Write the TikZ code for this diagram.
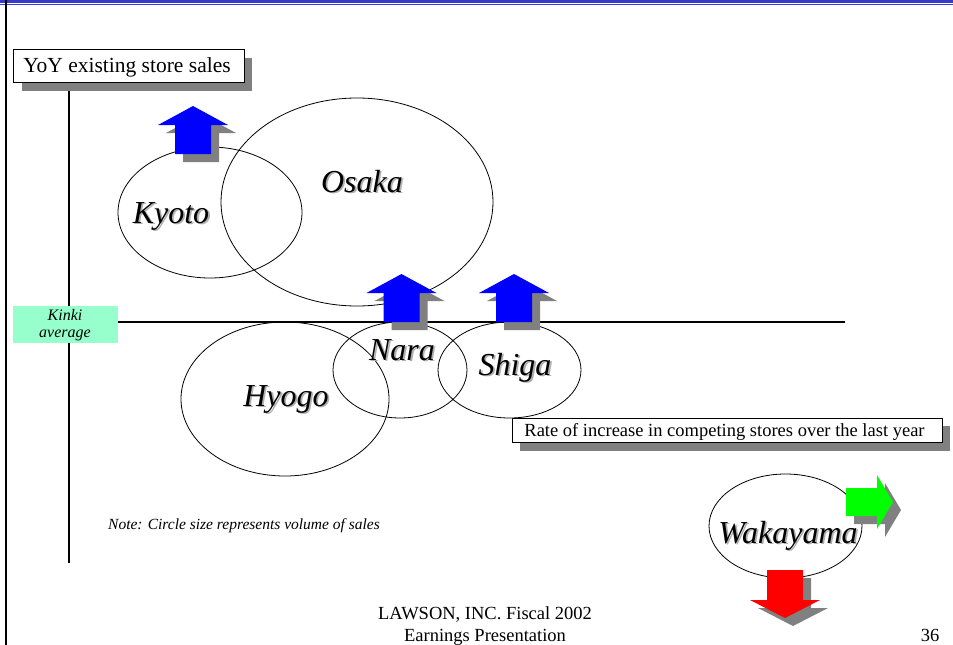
\documentclass[tikz,border=0pt]{standalone}
\usepackage{fontspec}
\setmainfont{Liberation Serif}
\usetikzlibrary{shapes.geometric,calc}
\definecolor{bandblue}{RGB}{58,58,200}
\definecolor{lineblue}{RGB}{60,60,230}
\definecolor{kinkigreen}{RGB}{150,255,204}
\definecolor{shadowgray}{RGB}{128,128,128}
\definecolor{txtshadow}{RGB}{175,175,175}
\definecolor{brightgreen}{RGB}{0,255,0}
\tikzset{
  region/.style={ellipse, draw=black, line width=0.8pt, inner sep=0pt},
  regionname/.style={font=\fontsize{32}{36}\selectfont\itshape, inner sep=0pt, anchor=base},
  axisline/.style={line width=1.1pt},
  tagbox/.style={draw=black, fill=white, line width=0.8pt, inner sep=0pt},
  plaintext/.style={inner sep=0pt, anchor=base},
  pics/uparrow/.style={code={
    \fill[shadowgray] (-10,8) -- (-10,-21) -- (-27,-21) -- (8,-40) -- (43,-21) -- (26,-21) -- (26,8) -- cycle;
    \fill[#1] (-18,0) -- (-18,-29) -- (-35,-29) -- (0,-48) -- (35,-29) -- (18,-29) -- (18,0) -- cycle;
  }},
  pics/rightarrow/.style={code={
    \fill[shadowgray] (8,-6) -- (39,-6) -- (39,-19) -- (55,8) -- (39,35) -- (39,22) -- (8,22) -- cycle;
    \fill[#1] (0,-14) -- (31,-14) -- (31,-27) -- (47,0) -- (31,27) -- (31,14) -- (0,14) -- cycle;
  }},
  pics/downarrow/.style={code={
    \fill[shadowgray] (-10,8) -- (-10,38) -- (-27,38) -- (8,56) -- (43,38) -- (26,38) -- (26,8) -- cycle;
    \fill[#1] (-18,0) -- (-18,30) -- (-35,30) -- (0,48) -- (35,30) -- (18,30) -- (18,0) -- cycle;
  }}
}
% region label with a soft drop shadow; #2 is the baseline centre
\newcommand\regionlabel[3]{%
  \node[regionname, text=txtshadow] (#1-sh) at ($(#2)+(1.8,1.8)$) {#3};
  \node[regionname] (#1) at (#2) {#3};
}
\begin{document}
\begin{tikzpicture}[x=1pt, y=-1pt]
  \useasboundingbox (0,0) rectangle (953,645);
  \fill[white] (0,0) rectangle (953,645);

  % header rule and left page edge
  \fill[bandblue] (0,0) rectangle (953,2.8);
  \fill[lineblue] (0,3.8) rectangle (953,5);
  \fill[black] (5,0) rectangle (7.3,645);

  % axes
  \coordinate (vtop) at (69,91);
  \coordinate (vbot) at (69,563);
  \coordinate (hleft) at (117,322);
  \coordinate (hright) at (845,322);
  \draw[axisline] (vtop) -- (vbot);
  \draw[axisline] (hleft) -- (hright);

  % vertical axis title
  \fill[shadowgray] (21.5,57.5) rectangle (252,91);
  \node[tagbox, minimum width=230.6pt, minimum height=33pt] (yoy) at (128.7,65.5) {};
  \node[plaintext, font=\fontsize{21.5}{24}\selectfont] (yoyT) at (127,72.5) {YoY existing store sales};

  % average marker
  \node[fill=kinkigreen, minimum width=105pt, minimum height=37pt, inner sep=0pt] (kinki) at (65.5,324.5) {};
  \node[plaintext, font=\fontsize{16}{18}\selectfont\itshape] (kinkiT1) at (65,320) {Kinki};
  \node[plaintext, font=\fontsize{16}{18}\selectfont\itshape] (kinkiT2) at (65,337.5) {average};

  % regions
  \node[region, minimum width=184pt, minimum height=131pt] (kyotoE) at (210,212.5) {};
  \node[region, minimum width=272pt, minimum height=208pt] (osakaE) at (357,202) {};
  \node[region, minimum width=208pt, minimum height=154pt] (hyogoE) at (285,399) {};
  \node[region, minimum width=134pt, minimum height=96pt] (naraE) at (400,370) {};
  \node[region, minimum width=143pt, minimum height=96pt] (shigaE) at (509.5,370) {};
  \node[region, minimum width=153pt, minimum height=104pt] (wakaE) at (785.5,526) {};

  % arrows
  \pic at (193,154) {uparrow=blue};
  \pic at (401.5,322) {uparrow=blue};
  \pic at (514,322) {uparrow=blue};
  \pic at (846,502) {rightarrow=brightgreen};
  \pic at (785,570) {downarrow=red};

  % region names
  \coordinate (kyotoP) at (171,223);
  \coordinate (osakaP) at (362,192);
  \coordinate (hyogoP) at (286,406);
  \coordinate (naraP) at (402,360);
  \coordinate (shigaP) at (515,375);
  \coordinate (wakaP) at (788,543);
  \regionlabel{kyoto}{kyotoP}{Kyoto}
  \regionlabel{osaka}{osakaP}{Osaka}
  \regionlabel{hyogo}{hyogoP}{Hyogo}
  \regionlabel{nara}{naraP}{Nara}
  \regionlabel{shiga}{shigaP}{Shiga}
  \regionlabel{waka}{wakaP}{Wakayama}

  % horizontal axis title
  \fill[shadowgray] (520,426) rectangle (950,451);
  \node[tagbox, minimum width=430pt, minimum height=24pt] (rate) at (727,430) {};
  \node[plaintext, font=\fontsize{18.5}{20}\selectfont] (rateT) at (724.5,436) {Rate of increase in competing stores over the last year};

  % note
  \node[plaintext, font=\fontsize{15.5}{17}\selectfont\itshape] (note) at (244,529) {Note: Circle size represents volume of sales};

  % footer
  \node[plaintext, font=\fontsize{18.5}{20}\selectfont] (footer1) at (485,619) {LAWSON, INC. Fiscal 2002};
  \node[plaintext, font=\fontsize{18.5}{20}\selectfont] (footer2) at (485,641) {Earnings Presentation};
  \node[plaintext, font=\fontsize{18.5}{20}\selectfont] (pageno) at (930,641) {36};
\end{tikzpicture}
\end{document}
